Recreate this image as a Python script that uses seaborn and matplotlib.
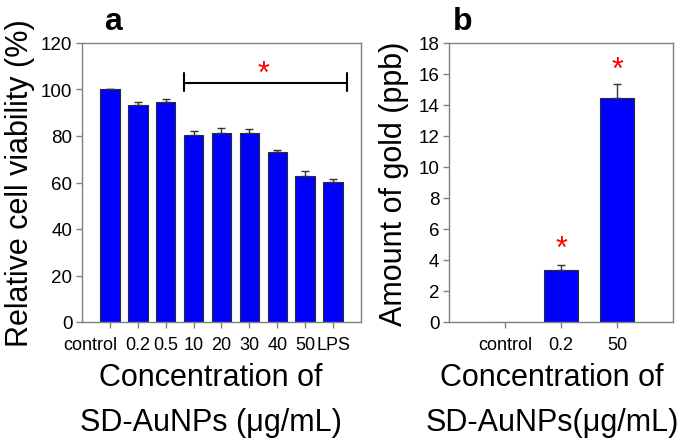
import numpy as np
import pandas as pd
import matplotlib
matplotlib.use('Agg')
import matplotlib.pyplot as plt
import matplotlib.transforms as mtrans
import seaborn as sns

# panel a data
cats_a = ['control', '0.2', '0.5', '10', '20', '30', '40', '50', 'LPS']
viab = [100.0, 93.3, 94.7, 80.6, 81.3, 81.3, 73.3, 62.8, 60.3]
viab_err = [0.0, 1.2, 1.3, 1.6, 2.3, 1.6, 0.8, 2.0, 1.2]

# panel b data
cats_b = ['control', '0.2', '50']
gold = [0.0, 3.35, 14.45]
gold_err = [0.0, 0.33, 0.9]

sns.set_theme(style='white')
plt.rcParams['font.family'] = ['Liberation Sans', 'DejaVu Sans']
plt.rcParams['text.color'] = 'black'
plt.rcParams['axes.labelcolor'] = 'black'
plt.rcParams['xtick.color'] = 'black'
plt.rcParams['ytick.color'] = 'black'

BLUE = '#0000FF'
EDGE = '#2b2b2b'
SPINE = '#808080'

fig = plt.figure(figsize=(6.85, 4.39), dpi=100)
ax1 = fig.add_axes([82 / 685, 116 / 439, 279 / 685, 279 / 439])
ax2 = fig.add_axes([449 / 685, 116 / 439, 224 / 685, 279 / 439])


def style(ax):
    for s in ax.spines.values():
        s.set_color(SPINE)
        s.set_linewidth(1.0)
    ax.tick_params(axis='both', direction='out', length=4, width=1, color=SPINE,
                   labelcolor='black', bottom=True, left=True)
    ax.tick_params(axis='y', labelsize=13.5, pad=3)
    ax.tick_params(axis='x', labelsize=13, pad=6)


# ---- a ----
df_a = pd.DataFrame({'c': cats_a, 'v': viab})
sns.barplot(data=df_a, x='c', y='v', order=cats_a, color=BLUE, saturation=1,
            width=0.7, edgecolor=EDGE, linewidth=0.8, errorbar=None, ax=ax1)
ax1.errorbar(np.arange(len(cats_a)), viab, yerr=[np.zeros(len(viab)), viab_err],
             fmt='none', ecolor='#333333', elinewidth=1, capsize=3, capthick=1)
ax1.set_xlim(-1, 9)
ax1.set_ylim(0, 120)
ax1.set_yticks(range(0, 121, 20))
style(ax1)
ax1.set_ylabel('Relative cell viability (%)', fontsize=22, labelpad=4)
ax1.set_xlabel('Concentration of\nSD-AuNPs (\u03bcg/mL)', fontsize=22, linespacing=1.63)
ax1.xaxis.set_label_coords(0.462, -0.145)
# "control" label sits left of its tick in the original
lab0 = ax1.get_xticklabels()[0]
lab0.set_transform(lab0.get_transform() + mtrans.ScaledTranslation(-0.195, 0, fig.dpi_scale_trans))
# significance bracket
ax1.plot([2.65, 8.5], [103, 103], color='black', lw=1.5)
ax1.plot([2.65, 2.65], [99.5, 107], color='black', lw=1.5)
ax1.plot([8.5, 8.5], [99.5, 107], color='black', lw=1.5)
ax1.text(5.5, 106.7, '*', color='red', fontsize=22, ha='center', va='center')

# ---- b ----
df_b = pd.DataFrame({'c': cats_b, 'v': gold})
sns.barplot(data=df_b, x='c', y='v', order=cats_b, color=BLUE, saturation=1,
            width=0.6, edgecolor=EDGE, linewidth=0.8, errorbar=None, ax=ax2)
ax2.errorbar(np.arange(1, 3), gold[1:], yerr=[np.zeros(2), gold_err[1:]],
             fmt='none', ecolor='#333333', elinewidth=1, capsize=3, capthick=1)
ax2.set_xlim(-1, 3)
ax2.set_ylim(0, 18)
ax2.set_yticks(range(0, 19, 2))
style(ax2)
ax2.set_ylabel('Amount of gold (ppb)', fontsize=22, labelpad=7)
ax2.set_xlabel('Concentration of\nSD-AuNPs(\u03bcg/mL)', fontsize=22, linespacing=1.63)
ax2.xaxis.set_label_coords(0.46, -0.145)
ax2.text(1, gold[1] + 1.35, '*', color='red', fontsize=22, ha='center', va='center')
ax2.text(2, gold[2] + 1.8, '*', color='red', fontsize=22, ha='center', va='center')

# panel letters
fig.text(113 / 685, 1 - 30 / 439, 'a', fontsize=23, fontweight='bold', ha='center', va='baseline')
fig.text(463 / 685, 1 - 30 / 439, 'b', fontsize=23, fontweight='bold', ha='center', va='baseline')

fig.savefig('out.png', dpi=100)
